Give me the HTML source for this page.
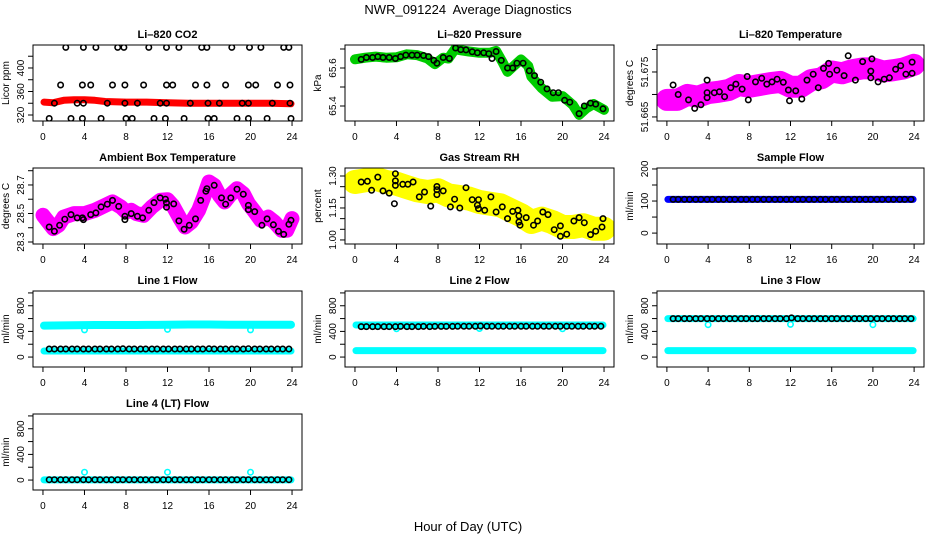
<!DOCTYPE html>
<html><head><meta charset="utf-8"><title>NWR_091224 Average Diagnostics</title>
<style>
html,body{margin:0;padding:0;background:#fff;}
svg{display:block;font-family:"Liberation Sans",Arial,sans-serif;}
</style></head>
<body>
<svg id="chart" width="936" height="540" viewBox="0 0 936 540" xmlns="http://www.w3.org/2000/svg">
<rect x="0" y="0" width="936" height="540" fill="#fff"/>
<text x="468" y="14" text-anchor="middle" font-size="13">NWR_091224&#160; Average Diagnostics</text>
<text x="468" y="531" text-anchor="middle" font-size="13">Hour of Day (UTC)</text>
</svg>
<script>
// ---------- data ----------
const co2Levels = [435, 371, 340, 314];
const co2HiT = [2.2,3.9,5.1,7.2,7.8,10.2,11.9,13.1,15.3,15.8,18.2,19.9,21.0,23.2,23.7];
const co2MidT = [1.7,3.8,4.6,6.7,7.9,9.7,11.9,12.5,14.7,15.8,17.6,19.8,20.5,22.6,23.8];
const co2LowT = [1.1,3.3,3.9,6.2,7.9,9.1,11.3,11.9,14.2,15.9,17.0,19.2,19.8,22.1,23.8];
const co2BotT = [0.6,2.7,3.8,5.6,8.0,8.6,10.7,11.8,13.6,15.9,16.5,18.7,19.8,21.6,23.9];
const co2RedT = [0.1,1,2,3,4,5,6,8,10,12,14,16,18,20,22,23.9];
const co2RedV = [342,341,345,346,346,345,343,342,342,341,340,340,340,340,340,339];

const pressT = [0,1,2,3,4,5,6,7,7.7,8.5,9,9.7,10,11,12,13,13.6,14.2,14.7,15.3,16,16.7,17,18,19,20,21,21.6,22.3,23,24];
const pressV = [65.646,65.654,65.66,65.654,65.656,65.672,65.668,65.65,65.62,65.654,65.65,65.704,65.695,65.687,65.68,65.68,65.69,65.633,65.58,65.61,65.645,65.61,65.554,65.493,65.449,65.452,65.405,65.353,65.388,65.41,65.38];
const pressBT = [0.6,1.1,1.7,2.2,2.7,3.3,3.9,4.4,4.9,5.5,6.0,6.6,7.1,7.6,7.9,8.5,9.1,9.7,10.2,10.7,11.3,11.8,12.4,12.9,13.2,13.6,14.1,14.7,15.2,15.6,16.2,16.8,17.3,17.9,18.5,19.1,19.6,20.2,20.7,21.6,22.1,22.7,23.2,23.9];
const pressBV = [65.645,65.655,65.655,65.66,65.655,65.655,65.65,65.66,65.668,65.668,65.668,65.666,65.66,65.64,65.625,65.655,65.65,65.705,65.697,65.695,65.685,65.68,65.68,65.675,65.65,65.687,65.64,65.6,65.6,65.625,65.625,65.585,65.56,65.525,65.49,65.47,65.47,65.43,65.42,65.36,65.4,65.415,65.41,65.385];

const tempT = [0,1,2,3,4,5,6,7,8,9,10,11,12,13,14,15,16,17,18,19,20,21,22,23,24];
const tempV = [51.6688,51.6688,51.6699,51.6695,51.6703,51.6706,51.6710,51.6721,51.6717,51.6721,51.6725,51.6728,51.6717,51.6717,51.6732,51.6736,51.6751,51.6747,51.6754,51.6758,51.6758,51.6751,51.6754,51.6758,51.6766];
const tempBT = [0.6,1.1,2.1,2.7,3.3,3.9,3.9,3.9,4.6,5.1,5.6,6.2,6.7,7.3,7.8,7.9,8.6,9.2,9.7,10.2,10.7,11.3,11.8,11.9,12.5,13.1,13.6,14.2,14.7,15.2,15.7,15.8,16.5,17.2,17.6,18.3,19.0,19.8,19.8,19.9,20.5,21.1,21.6,22.2,22.7,23.2,23.8,23.8];
const tempBV = [51.6721,51.6700,51.6688,51.6669,51.6677,51.6693,51.6732,51.6704,51.6704,51.6706,51.6695,51.6715,51.6723,51.6712,51.6740,51.6688,51.6728,51.6736,51.6723,51.6728,51.6734,51.6727,51.6710,51.6686,51.6708,51.6690,51.6732,51.6745,51.6715,51.6758,51.6769,51.6745,51.6754,51.6742,51.6786,51.6732,51.6773,51.6752,51.6737,51.6779,51.6728,51.6734,51.6737,51.6756,51.6764,51.6745,51.6772,51.6747];

const ambT = [0,0.5,1,1.5,2,3,4,5,6,6.7,7.5,8,8.5,9,9.7,10.5,11.3,12,12.5,13.2,13.7,14.3,15,15.5,16,16.5,17,17.5,18,18.7,19.3,19.8,20.3,21,21.7,22.3,23,23.5,24];
const ambV = [28.487,28.440,28.394,28.417,28.475,28.499,28.499,28.522,28.557,28.581,28.546,28.511,28.522,28.499,28.487,28.546,28.592,28.597,28.557,28.464,28.405,28.440,28.522,28.616,28.721,28.698,28.627,28.581,28.627,28.674,28.639,28.569,28.522,28.452,28.475,28.440,28.382,28.382,28.464];
const ambBT = [0.6,1.1,1.6,2.1,2.7,3.3,3.8,3.9,4.6,5.1,5.6,6.2,6.7,7.3,7.9,7.9,8.5,9.1,9.6,10.2,10.7,11.3,11.8,11.9,11.9,12.6,13.1,13.6,14.1,14.7,15.2,15.7,15.8,16.5,17.2,17.6,18.1,18.7,19.3,19.8,19.8,20.4,21.1,21.6,22.2,22.7,23.2,23.7,23.9];
const ambBV = [28.405,28.375,28.417,28.460,28.492,28.469,28.469,28.457,28.492,28.504,28.546,28.565,28.592,28.550,28.480,28.457,28.499,28.480,28.469,28.522,28.576,28.609,28.600,28.544,28.574,28.567,28.448,28.389,28.417,28.462,28.592,28.656,28.674,28.698,28.609,28.565,28.609,28.670,28.635,28.557,28.527,28.513,28.417,28.462,28.421,28.375,28.353,28.424,28.452];

const rhT = [0,1,2,3,4,5,6,7,8,9,10,11,12,13,14,15,16,17,18,19,20,21,22,23,24];
const rhV = [1.272,1.280,1.287,1.272,1.264,1.248,1.233,1.225,1.233,1.209,1.202,1.194,1.178,1.170,1.163,1.139,1.116,1.084,1.100,1.084,1.061,1.061,1.069,1.053,1.053];
const rhBT = [0.6,1.2,1.6,2.2,2.7,3.3,3.8,3.9,3.9,3.9,4.6,5.1,5.6,6.2,6.7,7.3,7.9,7.9,7.9,8.5,9.2,9.6,10.1,10.7,11.3,11.8,11.9,11.9,12.5,13.1,13.6,14.2,14.7,15.2,15.7,15.8,15.8,15.9,16.5,17.2,17.6,18.1,18.6,19.2,19.8,19.8,20.4,21.1,21.6,22.1,22.7,23.2,23.8,23.9];
const rhBV = [1.272,1.275,1.233,1.295,1.230,1.220,1.170,1.311,1.277,1.256,1.261,1.261,1.272,1.202,1.225,1.159,1.251,1.236,1.213,1.230,1.155,1.191,1.150,1.245,1.189,1.163,1.189,1.147,1.139,1.202,1.131,1.155,1.100,1.134,1.139,1.113,1.084,1.069,1.105,1.069,1.089,1.131,1.119,1.048,1.066,1.017,1.027,1.089,1.105,1.081,1.025,1.041,1.061,1.100];

const bandT = [0.1,1,2,3,4,5,6,7,8,9,10,11,12,13,14,15,16,17,18,19,20,21,22,23,23.9];
const sampleBand = [105,105,105,105,105,105,105,105,105,105,105,105,105,105,105,105,105,105,105,105,105,105,105,105,105];
const line1Upper = [490,492,494,496,498,500,500,500,500,500,502,502,504,506,508,508,508,506,504,504,504,504,504,504,504];
const line1Lower = [95,95,95,95,95,95,95,95,95,95,95,95,95,95,95,95,95,95,95,95,95,95,95,95,95];
const line2Upper = [500,500,500,500,500,500,500,500,500,500,500,500,500,500,500,500,500,500,500,500,500,500,500,500,500];
const line2Lower = [100,100,100,100,100,100,100,100,100,100,100,100,100,100,100,100,100,100,100,100,100,100,100,100,100];
const line3Upper = [600,600,600,600,600,600,600,600,600,600,600,600,600,600,600,600,600,600,600,600,600,600,600,600,600];
const line3Lower = [100,100,100,100,100,100,100,100,100,100,100,100,100,100,100,100,100,100,100,100,100,100,100,100,100];
const line4Band = [2,2,2,2,2,2,2,2,2,2,2,2,2,2,2,2,2,2,2,2,2,2,2,2,2];
const outT = [4,12,20];
const line1Out = [424,432,424];
const line2Out = [440,445,440];
const line3Out = [505,510,505];
const line4Out = [123,123,123];
const flowT = [0.6,1.1,1.7,2.2,2.8,3.3,3.9,4.4,5.0,5.5,6.1,6.6,7.2,7.7,8.3,8.8,9.4,9.9,10.5,11.0,11.6,12.1,12.7,13.2,13.8,14.3,14.9,15.4,16.0,16.5,17.1,17.6,18.2,18.7,19.3,19.8,20.4,20.9,21.5,22.0,22.6,23.1,23.7];
const sampleBlack = [105,105,105,105,105,105,105,105,105,105,105,105,105,105,105,105,105,105,105,105,105,105,105,105,105,105,105,105,105,105,105,105,105,105,105,105,105,105,105,105,105,105,105];
const line1Black = [125,125,125,125,125,125,125,125,125,125,125,125,125,128,125,125,125,125,125,125,125,125,125,125,125,125,125,125,128,125,125,125,125,125,125,130,125,125,125,125,125,125,125];
const line2Black = [475,475,475,475,475,475,475,478,475,475,475,478,475,478,478,478,478,480,480,480,480,485,480,480,480,480,480,480,480,480,480,480,480,480,480,480,480,480,480,480,480,480,480];
const line3Black = [600,600,600,600,600,600,600,600,600,600,600,600,600,600,600,600,600,600,600,600,600,610,600,600,600,600,600,600,600,600,600,600,600,600,600,600,600,600,600,600,600,600,600];
const line4Black = [5,5,5,5,5,5,5,5,5,5,5,5,5,5,5,5,5,5,5,5,5,5,5,5,5,5,5,5,5,5,5,5,5,5,5,5,5,5,5,5,5,5,5];
const xTicks = [0,4,8,12,16,20,24];

// ---------- layout ----------
const NS = 'http://www.w3.org/2000/svg';
const svg = document.getElementById('chart');
const cols = [{l:33,r:302},{l:345,r:614},{l:657,r:924}];
const rowTops = [45,168,291,414];
const BOXH = 76;
const XMIN = -0.96, XMAX = 24.96;

function mk(tag, parent) { const e = document.createElementNS(NS, tag); parent.appendChild(e); return e; }

const panels = [
 {key:'co2', title:'Li\u2013820 CO2', ylab:'Licor ppm', c:0, r:0, ymin:309.8, ymax:439.1, ticks:[320,340,360,380,400,420], labels:[320,360,400], fmt:v=>String(v)},
 {key:'pressure', title:'Li\u2013820 Pressure', ylab:'kPa', c:1, r:0, ymin:65.321, ymax:65.721, ticks:[65.4,65.5,65.6,65.7], labels:[65.4,65.6], fmt:v=>v.toFixed(1)},
 {key:'temperature', title:'Li\u2013820 Temperature', ylab:'degrees C', c:2, r:0, ymin:51.6641, ymax:51.681, ticks:[51.665,51.670,51.675,51.680], labels:[51.665,51.675], fmt:v=>v.toFixed(3)},
 {key:'ambient', title:'Ambient Box Temperature', ylab:'degrees C', c:0, r:1, ymin:28.286, ymax:28.819, ticks:[28.3,28.4,28.5,28.6,28.7,28.8], labels:[28.3,28.5,28.7], fmt:v=>v.toFixed(1)},
 {key:'rh', title:'Gas Stream RH', ylab:'percent', c:1, r:1, ymin:0.981, ymax:1.3376, ticks:[1.0,1.05,1.1,1.15,1.2,1.25,1.3], labels:[1.0,1.15,1.3], fmt:v=>v.toFixed(2)},
 {key:'sample', title:'Sample Flow', ylab:'ml/min', c:2, r:1, ymin:-34, ymax:203, ticks:[0,50,100,150,200], labels:[0,100,200], fmt:v=>String(v)},
 {key:'line1', title:'Line 1 Flow', ylab:'ml/min', c:0, r:2, ymin:-155, ymax:1030, ticks:[0,200,400,600,800,1000], labels:[0,400,800], fmt:v=>String(v)},
 {key:'line2', title:'Line 2 Flow', ylab:'ml/min', c:1, r:2, ymin:-155, ymax:1030, ticks:[0,200,400,600,800,1000], labels:[0,400,800], fmt:v=>String(v)},
 {key:'line3', title:'Line 3 Flow', ylab:'ml/min', c:2, r:2, ymin:-155, ymax:1030, ticks:[0,200,400,600,800,1000], labels:[0,400,800], fmt:v=>String(v)},
 {key:'line4', title:'Line 4 (LT) Flow', ylab:'ml/min', c:0, r:3, ymin:-155, ymax:1030, ticks:[0,200,400,600,800,1000], labels:[0,400,800], fmt:v=>String(v)}
];

function sx(p, h) { const c = cols[p.c]; return c.l + (h - XMIN) / (XMAX - XMIN) * (c.r - c.l); }
function sy(p, v) { const t = rowTops[p.r]; return t + BOXH - (v - p.ymin) / (p.ymax - p.ymin) * BOXH; }

const P = {};
panels.forEach(p => {
  P[p.key] = p;
  const c = cols[p.c], top = rowTops[p.r], bot = top + BOXH;
  const g = mk('g', svg);
  
  
  p.g = g;
  const title = mk('text', g);
  
  
  title.setAttribute('x', (c.l + c.r) / 2); title.setAttribute('y', top - 7);
  title.setAttribute('text-anchor', 'middle'); title.setAttribute('font-size', '11'); title.setAttribute('font-weight', 'bold');
  title.textContent = p.title;
  const yl = mk('text', g);
  
  
  const ylx = c.l - 24, yly = top + BOXH / 2;
  yl.setAttribute('x', ylx); yl.setAttribute('y', yly);
  yl.setAttribute('transform', 'rotate(-90 ' + ylx + ' ' + yly + ')');
  yl.setAttribute('text-anchor', 'middle'); yl.setAttribute('font-size', '10');
  yl.textContent = p.ylab;
  p.ticks.forEach(v => {
    const y = sy(p, v);
    const tk = mk('line', g);
    
    
    tk.setAttribute('x1', c.l); tk.setAttribute('x2', c.l - 5); tk.setAttribute('y1', y); tk.setAttribute('y2', y);
    tk.setAttribute('stroke', '#000'); tk.setAttribute('stroke-width', '1');
  });
  p.labels.forEach(v => {
    const y = sy(p, v);
    const tl = mk('text', g);
    
    
    const lx = c.l - 9;
    tl.setAttribute('x', lx); tl.setAttribute('y', y);
    tl.setAttribute('transform', 'rotate(-90 ' + lx + ' ' + y + ')');
    tl.setAttribute('text-anchor', 'middle'); tl.setAttribute('font-size', '10');
    tl.textContent = p.fmt(v);
  });
  const ax = mk('line', g);
  
  
  ax.setAttribute('x1', sx(p, 0)); ax.setAttribute('x2', sx(p, 24)); ax.setAttribute('y1', bot); ax.setAttribute('y2', bot);
  ax.setAttribute('stroke', '#000');
  xTicks.forEach(h => {
    const x = sx(p, h);
    const tk = mk('line', g);
    
    
    tk.setAttribute('x1', x); tk.setAttribute('x2', x); tk.setAttribute('y1', bot); tk.setAttribute('y2', bot + 5);
    tk.setAttribute('stroke', '#000');
    const tl = mk('text', g);
    
    
    tl.setAttribute('x', x); tl.setAttribute('y', bot + 19);
    tl.setAttribute('text-anchor', 'middle'); tl.setAttribute('font-size', '10');
    tl.textContent = String(h);
  });
  const cp = mk('clipPath', g);
  cp.setAttribute('id', 'clip-' + p.key);
  const cr = mk('rect', cp);
  cr.setAttribute('x', c.l); cr.setAttribute('y', top); cr.setAttribute('width', c.r - c.l); cr.setAttribute('height', BOXH);
  const pg = mk('g', g);
  pg.setAttribute('clip-path', 'url(#clip-' + p.key + ')');
  
  
  p.pg = pg;
  const box = mk('rect', g);
  
  
  box.setAttribute('x', c.l); box.setAttribute('y', top); box.setAttribute('width', c.r - c.l); box.setAttribute('height', BOXH);
  box.setAttribute('fill', 'none'); box.setAttribute('stroke', '#000'); box.setAttribute('stroke-width', '1');
});

function band(p, ts, vs, color, w, name) {
  const pl = mk('polyline', p.pg);
  
  
  pl.setAttribute('points', ts.map((t, i) => sx(p, t).toFixed(1) + ',' + sy(p, vs[i]).toFixed(1)).join(' '));
  pl.setAttribute('fill', 'none'); pl.setAttribute('stroke', color); pl.setAttribute('stroke-width', w);
  pl.setAttribute('stroke-linejoin', 'round'); pl.setAttribute('stroke-linecap', 'round');
}
function pts(p, ts, vs, color, name) {
  ts.forEach((t, i) => {
    const ci = mk('circle', p.pg);
    
    
    ci.setAttribute('cx', sx(p, t).toFixed(1)); ci.setAttribute('cy', sy(p, vs[i]).toFixed(1));
    ci.setAttribute('r', '2.7'); ci.setAttribute('fill', 'none'); ci.setAttribute('stroke', color); ci.setAttribute('stroke-width', '1.6');
  });
}
function levelPts(p, ts, v, color, name) {
  ts.forEach(t => {
    const ci = mk('circle', p.pg);
    
    
    ci.setAttribute('cx', sx(p, t).toFixed(1)); ci.setAttribute('cy', sy(p, v).toFixed(1));
    ci.setAttribute('r', '2.7'); ci.setAttribute('fill', 'none'); ci.setAttribute('stroke', color); ci.setAttribute('stroke-width', '1.6');
  });
}

band(P.co2, co2RedT, co2RedV, '#ff0000', 7, 'co2-series');
levelPts(P.co2, co2HiT, co2Levels[0], '#000', 'co2-mean-point');
levelPts(P.co2, co2MidT, co2Levels[1], '#000', 'co2-mean-point');
levelPts(P.co2, co2LowT, co2Levels[2], '#000', 'co2-mean-point');
levelPts(P.co2, co2BotT, co2Levels[3], '#000', 'co2-mean-point');
band(P.pressure, pressT, pressV, '#00cc00', 10, 'pressure-series');
pts(P.pressure, pressBT, pressBV, '#000', 'pressure-mean-point');
band(P.temperature, tempT, tempV, '#ff00ff', 22, 'temperature-series');
pts(P.temperature, tempBT, tempBV, '#000', 'temperature-mean-point');
band(P.ambient, ambT, ambV, '#ff00ff', 15, 'ambient-series');
pts(P.ambient, ambBT, ambBV, '#000', 'ambient-mean-point');
band(P.rh, rhT, rhV, '#ffff00', 24, 'rh-series');
pts(P.rh, rhBT, rhBV, '#000', 'rh-mean-point');
band(P.sample, bandT, sampleBand, '#0000ff', 7, 'sample-flow-series');
pts(P.sample, flowT, sampleBlack, '#000', 'sample-flow-mean-point');
band(P.line1, bandT, line1Upper, '#00ffff', 8, 'line1-flow-series');
band(P.line1, bandT, line1Lower, '#00ffff', 7, 'line1-flow-series');
pts(P.line1, outT, line1Out, '#00ffff', 'line1-outlier');
pts(P.line1, flowT, line1Black, '#000', 'line1-mean-point');
band(P.line2, bandT, line2Upper, '#00ffff', 7, 'line2-flow-series');
band(P.line2, bandT, line2Lower, '#00ffff', 7, 'line2-flow-series');
pts(P.line2, outT, line2Out, '#00ffff', 'line2-outlier');
pts(P.line2, flowT, line2Black, '#000', 'line2-mean-point');
band(P.line3, bandT, line3Upper, '#00ffff', 7, 'line3-flow-series');
band(P.line3, bandT, line3Lower, '#00ffff', 7, 'line3-flow-series');
pts(P.line3, outT, line3Out, '#00ffff', 'line3-outlier');
pts(P.line3, flowT, line3Black, '#000', 'line3-mean-point');
band(P.line4, bandT, line4Band, '#00ffff', 7, 'line4-flow-series');
pts(P.line4, outT, line4Out, '#00ffff', 'line4-outlier');
pts(P.line4, flowT, line4Black, '#000', 'line4-mean-point');
</script>
</body></html>
